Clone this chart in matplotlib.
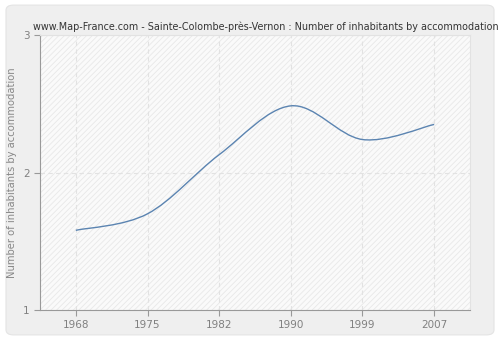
import matplotlib
matplotlib.use("Agg")
import matplotlib.pyplot as plt
from matplotlib.path import Path
from matplotlib.patches import PathPatch, FancyBboxPatch
import numpy as np

years = ["1968", "1975", "1982", "1990", "1999", "2007"]
values = [1.58, 1.70, 2.13, 2.485, 2.24, 2.35]
yticks = [1, 2, 3]
title = "www.Map-France.com - Sainte-Colombe-près-Vernon : Number of inhabitants by accommodation"

plt.rcParams['hatch.color'] = '#e3e3e3'
plt.rcParams['hatch.linewidth'] = 0.6

fig = plt.figure(figsize=(5, 3.4), dpi=100)
fig.patch.set_facecolor('white')
# rounded grey background
bg = FancyBboxPatch((0.012, 0.015), 0.976, 0.97, boxstyle="round,pad=0,rounding_size=0.015",
                    transform=fig.transFigure, facecolor='#efefef', edgecolor='#e4e4e4', lw=0.8,
                    zorder=-5)
fig.patches.append(bg)

ax = fig.add_axes([0.08, 0.088, 0.86, 0.809])
ax.set_zorder(2)
ax.set_facecolor('#fafafa')
ax.add_patch(plt.Rectangle((0, 0), 1, 1, transform=ax.transAxes, facecolor='none',
                           edgecolor='#e8e8e8', hatch='//////', lw=0, zorder=0))

x = np.arange(len(years))
# smooth curve through the points (Catmull-Rom as cubic beziers)
pts = np.column_stack([x, values]).astype(float)
verts = [tuple(pts[0])]
codes = [Path.MOVETO]
for i in range(len(pts) - 1):
    p0 = pts[i - 1] if i > 0 else pts[i]
    p1, p2 = pts[i], pts[i + 1]
    p3 = pts[i + 2] if i + 2 < len(pts) else pts[i + 1]
    c1 = p1 + (p2 - p0) / 6
    c2 = p2 - (p3 - p1) / 6
    verts += [tuple(c1), tuple(c2), tuple(p2)]
    codes += [Path.CURVE4] * 3
ax.add_patch(PathPatch(Path(verts, codes), facecolor='none', edgecolor='#5b84b1', lw=1.0, zorder=3))

ax.set_xlim(-0.5, len(years) - 0.5)
ax.set_ylim(1, 3)
ax.set_xticks(x)
ax.set_xticklabels(years)
ax.set_yticks(yticks)
ax.grid(True, color='#e2e2e2', linestyle=(0, (4, 3)), lw=0.8)
ax.set_axisbelow(True)

for s in ['top', 'right']:
    ax.spines[s].set_color('#e2e2e2')
for s in ['left', 'bottom']:
    ax.spines[s].set_color('#999999')
ax.tick_params(colors='#999999', labelcolor='#808080', labelsize=7.5, length=4, width=0.8)
ax.set_ylabel("Number of inhabitants by accommodation", color='#888888', fontsize=7.2)
fig.text(0.532, 0.905, title, ha='center', va='bottom', fontsize=6.9, color='#333333')

fig.savefig("out.png", dpi=100)
